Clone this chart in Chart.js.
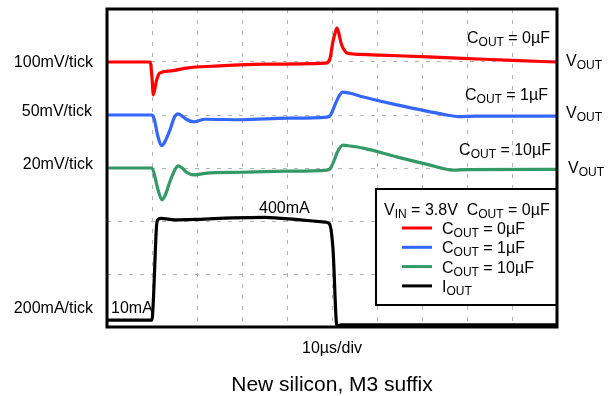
<!DOCTYPE html>
<html>
<head>
<meta charset="utf-8">
<script src="https://cdn.jsdelivr.net/npm/chart.js@4.4.1/dist/chart.umd.min.js"></script>
<style>
  body { margin: 0; background: #fff; }
  #wrap { width: 610px; height: 396px; }
</style>
</head>
<body>
<div id="wrap"><canvas id="myChart" width="610" height="396"></canvas></div>
<script>
"use strict";

//////// data (time in µs, traces in their own units) ////////
const redT = [0, 9.6, 10.0, 10.3, 11.0, 11.7, 14, 18, 23.3, 35, 48.6, 49.5, 50.2, 50.8, 51.1, 51.5, 52.0, 52.6, 53.3, 55, 60.7, 70, 79, 90, 100];
const redMv = [0, 0, -30, -62, -35, -21, -17, -11, -8, -4, -2, 5, 38, 58, 64, 55, 36, 24, 17, 15, 13, 10, 7, 3, 0];

const blueT = [0, 10, 10.5, 11.3, 12.2, 13, 14, 15, 15.8, 16.7, 17.6, 19.3, 21.8, 30, 40, 48.9, 49.7, 50.5, 51.1, 52.4, 54, 57, 64.4, 71.8, 75.5, 78, 82, 100];
const blueMv = [0, 0, -4, -20, -29, -24, -14, -2, 1, -1, -4, -6.5, -4, -4.5, -3, -2, 0, 8, 14, 21.5, 20.5, 17, 9.5, 3, 0, -1.5, -1, -1];

const greenT = [0, 10, 10.6, 11.3, 12.2, 13, 14, 15, 15.8, 16.7, 17.6, 19.3, 21.8, 30, 40, 48.9, 49.7, 50.5, 51.2, 52.4, 54, 56.9, 64.4, 71.8, 76.9, 80, 100];
const greenMv = [0, 0, -3, -8, -12, -10, -5, -1, 0.8, 0, -1.5, -2.6, -2, -1.6, -1.2, -0.8, 0, 3, 6, 8.6, 8.3, 7.5, 4.2, 1.1, -0.8, -0.6, -0.5];

const ioutT = [0, 10, 10.3, 11.0, 11.3, 12, 15, 20, 28, 35, 42.9, 48.5, 49.4, 50.2, 51.1, 52, 100];
const ioutMa = [26, 26, 100, 380, 404, 410, 404, 406, 412, 414, 404, 396, 390, 300, 4, 8, 8];

// per trace: mV or mA per division and vertical offset (divisions)
const traceNames = ["COUT = 0µF", "COUT = 1µF", "COUT = 10µF", "IOUT"];
const perDiv = [100, 50, 20, 200];
const offsetDiv = [5, 4, 3, 0];
const colors = ["#ff0000", "#3366ff", "#339966", "#000000"];

const leftLabels = ["100mV/tick", "50mV/tick", "20mV/tick", "200mA/tick"];
const xTitle = "10µs/div";
const chartTitle = "New silicon, M3 suffix";

const FONT = "'Liberation Sans', Arial, sans-serif";

const toPoints = function (ts, vs, i) {
  return ts.map((t, k) => ({ x: t, y: vs[k] / perDiv[i] + offsetDiv[i] }));
};

const series = [
  toPoints(redT, redMv, 0),
  toPoints(blueT, blueMv, 1),
  toPoints(greenT, greenMv, 2),
  toPoints(ioutT, ioutMa, 3),
];

////// text with subscripts ///////
// parts: array of [text, isSub]
function drawRich(ctx, parts, x, y, align, size) {
  size = size || 16;
  const sub = Math.round(size * 0.72);
  let w = 0;
  parts.forEach(([t, s]) => {
    ctx.font = (s ? sub : size) + "px " + FONT;
    w += ctx.measureText(t).width;
  });
  let cx = align === "right" ? x - w : align === "center" ? x - w / 2 : x;
  ctx.textAlign = "left";
  ctx.textBaseline = "alphabetic";
  parts.forEach(([t, s]) => {
    ctx.font = (s ? sub : size) + "px " + FONT;
    ctx.fillText(t, cx, s ? y + 3 : y);
    cx += ctx.measureText(t).width;
  });
}

const cParts = (val) => [["C", false], ["OUT", true], [" = " + val, false]];
const voutParts = [["V", false], ["OUT", true]];

const decor = {
  id: "decor",
  afterDatasetsDraw(chart) {
    const ctx = chart.ctx;
    const a = chart.chartArea;
    ctx.save();
    ctx.fillStyle = "#000";

    // labels on the left
    ctx.font = "16px " + FONT;
    ctx.textAlign = "right";
    ctx.textBaseline = "alphabetic";
    ctx.fillText(leftLabels[0], 93, 67);
    ctx.fillText(leftLabels[1], 92, 116);
    ctx.fillText(leftLabels[2], 93, 169);
    ctx.fillText(leftLabels[3], 93, 313);

    // trace names inside the plot
    drawRich(ctx, cParts("0µF"), 550, 43, "right");
    drawRich(ctx, cParts("1µF"), 548, 100, "right");
    drawRich(ctx, cParts("10µF"), 551, 155, "right");

    // VOUT on the right
    drawRich(ctx, voutParts, 566, 66, "left");
    drawRich(ctx, voutParts, 566, 118, "left");
    drawRich(ctx, voutParts, 568, 173, "left");

    // current labels
    ctx.font = "16px " + FONT;
    ctx.textAlign = "left";
    ctx.fillText("400mA", 259, 213);
    ctx.fillText("10mA", 111, 313);

    // axis title and chart title
    ctx.textAlign = "center";
    ctx.font = "16px " + FONT;
    ctx.fillText(xTitle, 332, 353);
    ctx.font = "21px " + FONT;
    ctx.fillText(chartTitle, 332, 391);

    // legend box
    const lx = 376, ly = 189, lw = a.right - 376, lh = 116;
    ctx.fillStyle = "#fff";
    ctx.fillRect(lx, ly, lw, lh);
    ctx.strokeStyle = "#000";
    ctx.lineWidth = 2;
    ctx.strokeRect(lx, ly, lw, lh);
    ctx.fillStyle = "#000";
    drawRich(ctx, [["V", false], ["IN", true], [" = 3.8V  C", false], ["OUT", true], [" = 0µF", false]], 384, 215, "left");
    const rows = [cParts("0µF"), cParts("1µF"), cParts("10µF"), [["I", false], ["OUT", true]]];
    rows.forEach((p, i) => {
      const yy = 228 + i * 19.3;
      ctx.strokeStyle = colors[i];
      ctx.lineWidth = 3;
      ctx.beginPath();
      ctx.moveTo(402, yy);
      ctx.lineTo(432, yy);
      ctx.stroke();
      drawRich(ctx, p, 442, yy + 6, "left");
    });

    // frame
    ctx.strokeStyle = "#000";
    ctx.lineWidth = 3;
    ctx.strokeRect(a.left, a.top, a.right - a.left, a.bottom - a.top);
    ctx.restore();
  },
};

const ctx = document.getElementById("myChart");

new Chart(ctx, {
  type: "line",
  data: {
    datasets: series.map((pts, i) => ({
      label: traceNames[i],
      data: pts,
      borderColor: colors[i],
      borderWidth: 3.2,
      pointRadius: 0,
      cubicInterpolationMode: "monotone",
      fill: false,
    })),
  },
  options: {
    responsive: false,
    animation: false,
    devicePixelRatio: 1,
    layout: { padding: { left: 107, right: 53, top: 9, bottom: 69 } },
    plugins: {
      legend: { display: false },
      tooltip: { enabled: false },
    },
    scales: {
      x: {
        type: "linear",
        min: 0,
        max: 100,
        ticks: { display: false, stepSize: 10 },
        grid: { color: "#b4b4b4", lineWidth: 1, drawTicks: false },
        border: { display: false, dash: [4, 7] },
      },
      y: {
        type: "linear",
        min: 0,
        max: 6,
        ticks: { display: false, stepSize: 1 },
        grid: { color: "#b4b4b4", lineWidth: 1, drawTicks: false },
        border: { display: false, dash: [4, 7] },
      },
    },
  },
  plugins: [decor],
});
</script>
</body>
</html>
